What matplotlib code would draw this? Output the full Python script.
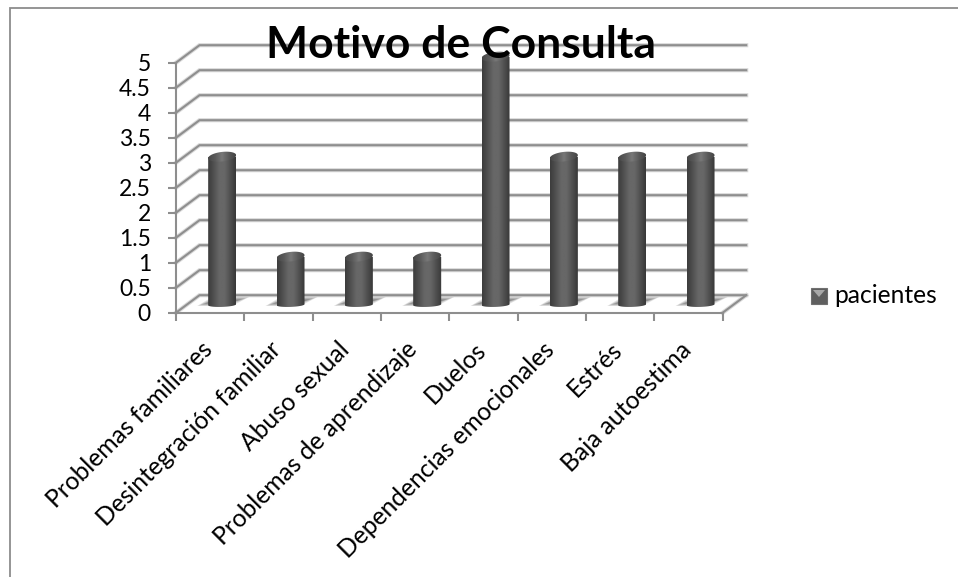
import numpy as np
import matplotlib
matplotlib.use("Agg")
import matplotlib.pyplot as plt
from matplotlib.colors import LinearSegmentedColormap
from matplotlib.patches import Polygon, Rectangle

categorias = ["Problemas familiares", "Desintegración familiar", "Abuso sexual",
              "Problemas de aprendizaje", "Duelos", "Dependencias emocionales",
              "Estrés", "Baja autoestima"]
pacientes = [3, 1, 1, 1, 5, 3, 3, 3]
y_ticks = [0, 0.5, 1, 1.5, 2, 2.5, 3, 3.5, 4, 4.5, 5]
y_labels = ["0", "0.5", "1", "1.5", "2", "2.5", "3", "3.5", "4", "4.5", "5"]

plt.rcParams["font.family"] = ["Lato", "DejaVu Sans"]

W, H = 958, 577
fig = plt.figure(figsize=(W / 100, H / 100), dpi=100)
# plano frontal del grafico en pixeles
left, right, top, bottom = 176, 722.7, 62.7, 312.7
ax = fig.add_axes([left / W, 1 - bottom / H, (right - left) / W, (bottom - top) / H])
px = 8 / (right - left)
py = 5 / (bottom - top)

GRIS = "#8e8e8e"
dx = 23.5 * px
dy = 17.5 * py

# marco exterior
fig.add_artist(Rectangle((9.5 / W, -0.05), 1.1, 1.05 - 8 / H, transform=fig.transFigure,
                         fill=False, ec="#8c8c8c", lw=1.3))

# rejilla, con un halo claro como la sombra del original
for v in y_ticks:
    xs = [0, dx, 8 + dx]
    ys = [v, v + dy, v + dy]
    ax.plot(xs, ys, color="#d9d9d9", lw=3, zorder=1, clip_on=False, solid_joinstyle="miter")
    ax.plot(xs, ys, color=GRIS, lw=1.5, zorder=2, clip_on=False, solid_joinstyle="miter")
ax.plot([8, 8 + dx], [0, dy], color="#d9d9d9", lw=3, zorder=1, clip_on=False)
ax.plot([8, 8 + dx], [0, dy], color=GRIS, lw=1.5, zorder=2, clip_on=False)

cmap = LinearSegmentedColormap.from_list("cil", ["#3c3c3c", "#505050", "#676767", "#676767",
                                                  "#505050", "#383838"])
cmap_top = LinearSegmentedColormap.from_list("tapa", ["#484848", "#5a5a5a", "#787878",
                                                      "#5a5a5a", "#444444"])
grad = np.linspace(0, 1, 64).reshape(1, -1)

ancho = 28 * px
off_x = 12 * px
off_y = 6 * py
base = 8 * py
semi = 4.8 * py
incl = 1.5 * py  # las tapas suben un poco hacia la derecha
t = np.linspace(0, 2 * np.pi, 80)

for i, valor in enumerate(pacientes):
    cx = i + 0.5 + off_x
    x0, x1 = cx - ancho / 2, cx + ancho / 2
    # sombra sobre el suelo, capas que se van cerrando
    for k in range(6):
        ax_ = k * 1.8 * px
        ay_ = k * 0.6 * py
        sombra = Polygon([(x0 - 11 * px + ax_, 6.7 * py + ay_), (x1 - 4 * px - ax_, 6.7 * py + ay_),
                          (x1 + 13 * px - ax_, 15.7 * py - ay_), (x0 + 4 * px + ax_, 15.7 * py - ay_)],
                         fc="#303030", ec="none", alpha=0.14, zorder=3, clip_on=False)
        ax.add_patch(sombra)
    # cuerpo del cilindro
    y_base = base
    y_top = valor + off_y
    u = np.cos(t[:40])
    v = np.sin(t[:40])
    contorno = [(x1, y_top)] + [(cx + a * ancho / 2 * 1.0, y_base - b * 2.2 * py + a * 0.5 * py)
                                for a, b in zip(u, v)] + [(x0, y_top)]
    clip = Polygon(contorno, transform=ax.transData, fc="none", ec="none")
    ax.add_patch(clip)
    im = ax.imshow(grad, extent=(x0, x1, y_base - 4 * py, y_top), cmap=cmap, aspect="auto",
                   vmin=0, vmax=1, zorder=4, interpolation="bilinear")
    im.set_clip_box(fig.bbox)
    im.set_clip_path(clip)
    # tapa superior
    tapa = Polygon(np.c_[cx + np.cos(t) * ancho / 2,
                         y_top + np.sin(t) * semi + np.cos(t) * incl],
                   transform=ax.transData, fc="none", ec="none")
    ax.add_patch(tapa)
    im2 = ax.imshow(grad, extent=(x0, x1, y_top - semi - incl, y_top + semi + incl), cmap=cmap_top,
                    aspect="auto", vmin=0, vmax=1, zorder=5, interpolation="bilinear")
    im2.set_clip_box(fig.bbox)
    im2.set_clip_path(tapa)

ax.set_xlim(0, 8)
ax.set_ylim(0, 5)
ax.patch.set_visible(False)
for lado in ["top", "right"]:
    ax.spines[lado].set_visible(False)
for lado in ["left", "bottom"]:
    ax.spines[lado].set_color(GRIS)
    ax.spines[lado].set_linewidth(1.5)
    ax.spines[lado].set_zorder(3)

ax.set_yticks(y_ticks)
ax.set_yticklabels(y_labels, fontsize=16.5, color="black")
ax.tick_params(axis="y", length=6, width=1.5, color=GRIS, pad=12)
ax.set_xticks(range(9))
ax.set_xticklabels([])
ax.tick_params(axis="x", which="major", length=6, width=1.5, color=GRIS)
ax.set_xticks(np.arange(8) + 0.36, minor=True)
ax.set_xticklabels(categorias, minor=True, fontsize=17.7, rotation=45, ha="right",
                   va="top", rotation_mode="anchor")
ax.tick_params(axis="x", which="minor", length=0, pad=18)

# titulo
fig.text(461 / W, 1 - 58 / H, "Motivo de Consulta", fontsize=32, fontweight="bold",
         ha="center", va="baseline", color="black", zorder=10)

# leyenda
fig.add_artist(Rectangle((811 / W, 1 - 304 / H), 16 / W, 16 / H, transform=fig.transFigure,
                         fc="#5f5f5f", ec="#707070", lw=0.8))
fig.add_artist(Polygon([(813 / W, 1 - 290 / H), (825 / W, 1 - 290 / H), (819 / W, 1 - 297 / H)],
                       transform=fig.transFigure, fc="#a8a8a8", ec="none"))
fig.text(834 / W, 1 - 303 / H, "pacientes", fontsize=17.7, ha="left", va="baseline", color="black")

fig.savefig("out.png", dpi=100)
